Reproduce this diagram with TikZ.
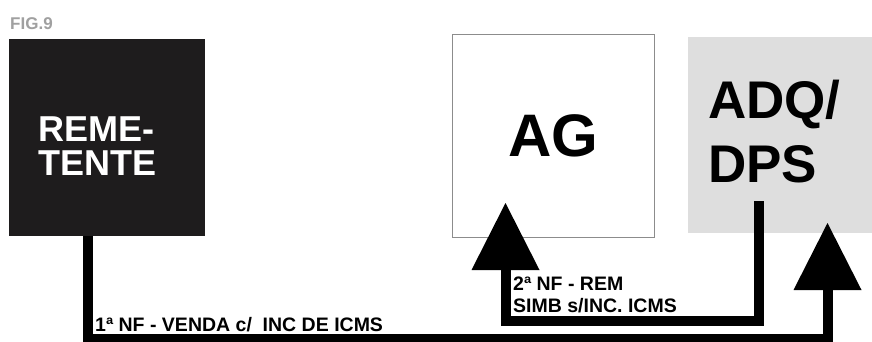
\documentclass[tikz,border=0pt]{standalone}
\usepackage{fontspec}
\setmainfont{Liberation Sans}
\usetikzlibrary{arrows.meta}
\usepackage{xcolor}
\definecolor{remfill}{HTML}{1E1C1D}
\definecolor{adqfill}{HTML}{DEDEDE}
\definecolor{figgray}{HTML}{A0A0A0}
\definecolor{agline}{HTML}{8C8C8C}

\begin{document}
\begin{tikzpicture}[x=1pt,y=-1pt,
    box/.style={rectangle,inner sep=0pt,font=\bfseries},
    txt/.style={inner sep=0pt,align=left,font=\bfseries},
    flow/.style={line width=10pt,line join=miter,
        -{Triangle[width=68pt,length=67pt,line width=0pt]}}]
    \useasboundingbox (0,0) rectangle (872,342);
    % boxes
    \node[box,fill=remfill,minimum width=196pt,minimum height=197pt] (rem) at (107,137.5) {};
    \node[box,draw=agline,line width=0.8pt,minimum width=202pt,minimum height=203pt,
        font=\bfseries\fontsize{60}{60}\selectfont] (ag) at (553,135.5) {AG};
    \node[box,fill=adqfill,minimum width=184pt,minimum height=196pt] (adq) at (780,135) {};
    \node[txt,anchor=north west,text=white,font=\bfseries\fontsize{36}{34}\selectfont]
        (remtxt) at (38,117) {REME-\\TENTE};
    \node[txt,anchor=north west,font=\bfseries\fontsize{53}{64}\selectfont]
        (adqtxt) at (708,80) {ADQ/\\DPS};
    \node[txt,anchor=north west,text=figgray,font=\bfseries\fontsize{17}{17}\selectfont]
        (fig) at (10,17) {FIG.9};
    % connectors
    \coordinate (c1) at (88,339);
    \coordinate (tipadq) at (827.5,223);
    \coordinate (adqout) at (759,201);
    \coordinate (c2) at (759,320.5);
    \coordinate (tipag) at (505.5,203);
    \draw[flow] (rem.south -| c1) -- (c1) -- (c1 -| tipadq) -- (tipadq);
    \draw[flow] (adqout) -- (c2) -- (c2 -| tipag) -- (tipag);
    % labels
    \node[txt,anchor=north west,font=\bfseries\fontsize{19.5}{22}\selectfont]
        (nf1) at (95,317) {1ª NF - VENDA c/\ \ INC DE ICMS};
    \node[txt,anchor=north west,font=\bfseries\fontsize{19.5}{22}\selectfont]
        (nf2) at (513,277) {2ª NF - REM\\SIMB s/INC. ICMS};
\end{tikzpicture}
\end{document}
